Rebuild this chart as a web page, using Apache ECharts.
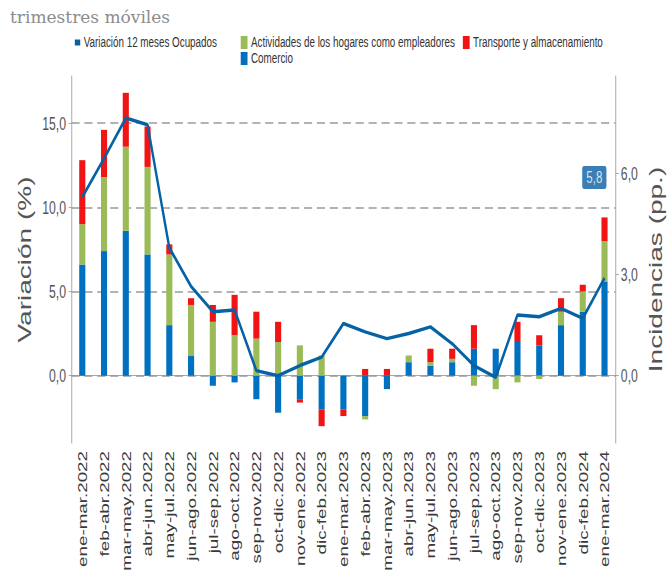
<!DOCTYPE html>
<html>
<head>
  <meta charset="utf-8">
  <title>Variación 12 meses Ocupados e incidencias</title>
  <script src="https://cdn.jsdelivr.net/npm/echarts@6/dist/echarts.min.js"></script>
  <style>
    body { margin: 0; background: #fff; }
    #wrap { position: relative; width: 672px; height: 577px; overflow: hidden; }
    #chart { position: absolute; left: 0; top: 0; width: 988px; height: 577px;
             transform: scaleX(0.68); transform-origin: 0 0; }
    #sub { position: absolute; left: 10px; top: 7px; font-family: 'DejaVu Serif', serif;
           font-size: 17px; color: #8c8c8c; }
  </style>
</head>
<body>
  <div id="wrap">
    <div id="chart"></div>
    <div id="sub">trimestres móviles</div>
  </div>
  <script type="application/javascript">
      var categories = ['ene-mar.2022', 'feb-abr.2022', 'mar-may.2022', 'abr-jun.2022', 'may-jul.2022',
          'jun-ago.2022', 'jul-sep.2022', 'ago-oct.2022', 'sep-nov.2022', 'oct-dic.2022', 'nov-ene.2022',
          'dic-feb.2023', 'ene-mar.2023', 'feb-abr.2023', 'mar-may.2023', 'abr-jun.2023', 'may-jul.2023',
          'jun-ago.2023', 'jul-sep.2023', 'ago-oct.2023', 'sep-nov.2023', 'oct-dic.2023', 'nov-ene.2023',
          'dic-feb.2024', 'ene-mar.2024'];
      // variación 12 meses ocupados (%), eje izquierdo
      var ocupados = [10.6, 12.9, 15.3, 14.9, 7.6, 5.3, 3.8, 3.9, 0.3, 0.0, 0.6, 1.1, 3.1,
          2.6, 2.2, 2.5, 2.9, 1.9, 0.6, -0.1, 3.6, 3.5, 4.0, 3.4, 5.8];
      // incidencias (pp.), eje derecho
      var comercio = [3.3, 3.7, 4.3, 3.6, 1.5, 0.6, -0.3, -0.2, -0.7, -1.1, -0.7, -1.0, -1.0,
          -1.2, -0.4, 0.4, 0.3, 0.4, 0.8, 0.8, 1.0, 0.9, 1.5, 1.9, 2.8];
      var hogares = [1.2, 2.2, 2.5, 2.6, 2.1, 1.5, 1.6, 1.2, 1.1, 1.0, 0.9, 0.6, 0,
          -0.1, 0, 0.2, 0.1, 0.1, -0.3, -0.4, -0.2, -0.1, 0.4, 0.6, 1.2];
      var transporte = [1.9, 1.4, 1.6, 1.2, 0.3, 0.2, 0.5, 1.2, 0.8, 0.6, -0.1, -0.5, -0.2,
          0.2, 0.2, 0, 0.4, 0.3, 0.7, 0, 0.6, 0.3, 0.4, 0.2, 0.7];

      var fmt = function (v) { return v.toFixed(1).replace('.', ','); };
      var font = "'Liberation Sans', Arial, sans-serif";
      var last = categories.length - 1;
      var legendText = {fontSize: 14.5, lineHeight: 14, color: '#333'};

      var myChart = echarts.init(document.getElementById('chart'), null, {renderer: 'svg'});
      myChart.setOption({
          animation: false,
          textStyle: {fontFamily: font},
          grid: {left: 105, right: 83, top: 76, bottom: 134, outerBoundsMode: 'none', containLabel: false},
          legend: [
              {
                  left: 110, top: 35, itemWidth: 8, itemHeight: 6, padding: 0,
                  textStyle: legendText,
                  data: [{name: 'Variación 12 meses Ocupados', icon: 'rect'}]
              },
              {
                  left: 354, top: 35, itemWidth: 10, itemHeight: 13, itemGap: 11, padding: 0,
                  textStyle: legendText,
                  data: [{name: 'Actividades de los hogares como empleadores', icon: 'rect'},
                         {name: 'Transporte y almacenamiento', icon: 'rect'}]
              },
              {
                  left: 354, top: 51, itemWidth: 10, itemHeight: 13, padding: 0,
                  textStyle: legendText,
                  data: [{name: 'Comercio', icon: 'rect'}]
              }
          ],
          xAxis: {
              type: 'category',
              data: categories,
              axisLine: {lineStyle: {color: '#999'}},
              axisTick: {alignWithLabel: true, length: 5, lineStyle: {color: '#999'}},
              axisLabel: {rotate: 90, interval: 0, fontSize: 18.8, color: '#3a3a3a', margin: 8}
          },
          yAxis: [
              {
                  type: 'value', min: -4, max: 17.8, splitNumber: 4,
                  name: 'Variación (%)', nameLocation: 'middle', nameGap: 55,
                  nameTextStyle: {fontSize: 28, color: '#555'},
                  axisLine: {show: true, lineStyle: {color: '#999'}},
                  axisTick: {show: true, length: 4, lineStyle: {color: '#999'}},
                  axisLabel: {fontSize: 18, color: '#555', margin: 8, formatter: fmt,
                      showMinLabel: false, showMaxLabel: false},
                  splitLine: {show: true, showMinLine: false, showMaxLine: false,
                      lineStyle: {color: '#9a9a9a', width: 1.5, type: [12, 7]}}
              },
              {
                  type: 'value', min: -2, max: 8.9, splitNumber: 4,
                  name: 'Incidencias (pp.)', nameLocation: 'middle', nameGap: 45,
                  nameTextStyle: {fontSize: 28, color: '#555', padding: [0, 20, 0, 0]},
                  axisLine: {show: true, lineStyle: {color: '#999'}},
                  axisTick: {show: true, length: 5, lineStyle: {color: '#999'}},
                  axisLabel: {fontSize: 18, color: '#555', margin: 8, formatter: fmt,
                      showMinLabel: false, showMaxLabel: false},
                  splitLine: {show: false}
              }
          ],
          series: [
              {
                  name: 'Comercio', type: 'bar', stack: 'inc', yAxisIndex: 1,
                  barWidth: 9, itemStyle: {color: '#0070c0'}, data: comercio
              },
              {
                  name: 'Actividades de los hogares como empleadores', type: 'bar', stack: 'inc',
                  yAxisIndex: 1, barWidth: 9, itemStyle: {color: '#9bbb59'}, data: hogares
              },
              {
                  name: 'Transporte y almacenamiento', type: 'bar', stack: 'inc', yAxisIndex: 1,
                  barWidth: 9, itemStyle: {color: '#f01414'}, data: transporte
              },
              {
                  name: 'Variación 12 meses Ocupados', type: 'line', yAxisIndex: 0, z: 5,
                  symbol: 'none', lineStyle: {color: '#0563a5', width: 3.5},
                  itemStyle: {color: '#0563a5'}, data: ocupados
              },
              {
                  name: 'etiqueta', type: 'scatter', yAxisIndex: 1, symbolSize: 0, z: 6,
                  data: [[categories[last], ocupados[last]]],
                  label: {
                      show: true, position: 'inside', offset: [-15, -3],
                      formatter: function () { return fmt(ocupados[last]); },
                      color: '#fff', fontSize: 17, backgroundColor: '#0a5ea3',
                      padding: [3, 6], borderRadius: 3, lineHeight: 17
                  }
              }
          ]
      });
  </script>
</body>
</html>
